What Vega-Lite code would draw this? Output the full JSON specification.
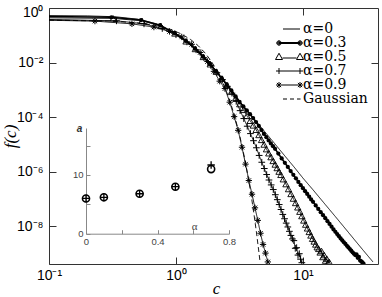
{
"$schema":"https://vega.github.io/schema/vega-lite/v6.json",
"width":329,"height":256,
"autosize":{"type":"none"},
"padding":{"left":49,"top":8,"right":4,"bottom":33},
"background":"white",
"config":{"view":{"stroke":null},"axis":{"grid":false,"labelFont":"Liberation Sans","titleFont":"Liberation Sans","labelFlush":false,"labelOverlap":false}},
"datasets":{
"main":[
{"s":"0","c":0.1,"f":0.525},{"s":"0","c":0.2,"f":0.513},{"s":"0","c":0.33,"f":0.479},{"s":"0","c":0.5,"f":0.389},{"s":"0","c":0.7,"f":0.263},{"s":"0","c":1,"f":0.115},{"s":"0","c":1.3,"f":0.0468},{"s":"0","c":1.65,"f":0.0162},{"s":"0","c":2,"f":0.00603},{"s":"0","c":2.4,"f":0.00214},{"s":"0","c":2.75,"f":8.9e-4},{"s":"0","c":3.2,"f":3.63e-4},{"s":"0","c":3.7,"f":1.58e-4},{"s":"0","c":4.3,"f":6.92e-5},{"s":"0","c":5,"f":2.95e-5},{"s":"0","c":6,"f":1.07e-5},{"s":"0","c":7,"f":4.47e-6},{"s":"0","c":8.5,"f":1.51e-6},{"s":"0","c":10,"f":5.89e-7},{"s":"0","c":12,"f":2.19e-7},{"s":"0","c":15,"f":6.31e-8},{"s":"0","c":18,"f":2.29e-8},{"s":"0","c":22,"f":7.41e-9},{"s":"0","c":26,"f":2.88e-9},{"s":"0","c":30,"f":1.29e-9},{"s":"0","c":35.6,"f":5.0e-10},
{"s":"G","c":0.1,"f":0.36},{"s":"G","c":0.3,"f":0.333},{"s":"G","c":0.5,"f":0.285},{"s":"G","c":0.7,"f":0.226},{"s":"G","c":0.9,"f":0.166},{"s":"G","c":1.1,"f":0.113},{"s":"G","c":1.3,"f":0.0708},{"s":"G","c":1.5,"f":0.0412},{"s":"G","c":1.7,"f":0.0222},{"s":"G","c":1.9,"f":0.01107},{"s":"G","c":2.1,"f":0.0051},{"s":"G","c":2.3,"f":0.00218},{"s":"G","c":2.5,"f":8.6e-4},{"s":"G","c":2.7,"f":3.15e-4},{"s":"G","c":2.9,"f":1.07e-4},{"s":"G","c":3.1,"f":3.34e-5},{"s":"G","c":3.3,"f":9.7e-6},{"s":"G","c":3.5,"f":2.6e-6},{"s":"G","c":3.7,"f":6.46e-7},{"s":"G","c":3.9,"f":1.49e-7},{"s":"G","c":4.1,"f":3.16e-8},{"s":"G","c":4.3,"f":6.22e-9},{"s":"G","c":4.5,"f":1.135e-9},{"s":"G","c":4.6,"f":4.71e-10},
{"s":"9","c":0.1,"f":0.355},{"s":"9","c":0.23,"f":0.331},{"s":"9","c":0.45,"f":0.263},{"s":"9","c":0.67,"f":0.2},{"s":"9","c":0.89,"f":0.138},{"s":"9","c":1.11,"f":0.0871},{"s":"9","c":1.33,"f":0.0468},{"s":"9","c":1.55,"f":0.0234},{"s":"9","c":1.77,"f":0.01096},{"s":"9","c":1.99,"f":0.00479},{"s":"9","c":2.21,"f":0.00209},{"s":"9","c":2.43,"f":0.00112},{"s":"9","c":2.65,"f":3.55e-4},{"s":"9","c":2.87,"f":1.05e-4},{"s":"9","c":3.09,"f":3.31e-5},{"s":"9","c":3.31,"f":7.94e-6},{"s":"9","c":3.53,"f":1.91e-6},{"s":"9","c":3.75,"f":4.79e-7},{"s":"9","c":3.97,"f":1.51e-7},{"s":"9","c":4.19,"f":4.79e-8},{"s":"9","c":4.41,"f":1.66e-8},{"s":"9","c":4.63,"f":5.62e-9},{"s":"9","c":4.85,"f":2.19e-9},{"s":"9","c":5.07,"f":1.05e-9},{"s":"9","c":5.29,"f":5.0e-10},
{"s":"7","c":0.1,"f":0.38},{"s":"7","c":0.34,"f":0.339},{"s":"7","c":0.56,"f":0.263},{"s":"7","c":0.78,"f":0.178},{"s":"7","c":1.0,"f":0.105},{"s":"7","c":1.22,"f":0.0575},{"s":"7","c":1.44,"f":0.0295},{"s":"7","c":1.66,"f":0.0151},{"s":"7","c":1.88,"f":0.00794},{"s":"7","c":2.1,"f":0.00427},{"s":"7","c":2.32,"f":0.0024},{"s":"7","c":2.54,"f":0.00135},{"s":"7","c":2.76,"f":7.59e-4},{"s":"7","c":2.98,"f":3.8e-4},{"s":"7","c":3.2,"f":1.74e-4},{"s":"7","c":3.42,"f":8.91e-5},{"s":"7","c":3.64,"f":4.68e-5},{"s":"7","c":3.86,"f":2.51e-5},{"s":"7","c":4.08,"f":1.38e-5},{"s":"7","c":4.3,"f":7.59e-6},{"s":"7","c":4.52,"f":3.98e-6},{"s":"7","c":4.74,"f":2.24e-6},{"s":"7","c":4.96,"f":1.32e-6},{"s":"7","c":5.18,"f":7.94e-7},{"s":"7","c":5.4,"f":5.01e-7},{"s":"7","c":5.62,"f":3.31e-7},{"s":"7","c":5.84,"f":2.24e-7},{"s":"7","c":6.06,"f":1.45e-7},{"s":"7","c":6.28,"f":9.55e-8},{"s":"7","c":6.5,"f":6.31e-8},{"s":"7","c":6.72,"f":4.17e-8},{"s":"7","c":6.94,"f":2.75e-8},{"s":"7","c":7.16,"f":1.91e-8},{"s":"7","c":7.38,"f":1.32e-8},{"s":"7","c":7.6,"f":9.55e-9},{"s":"7","c":7.82,"f":6.61e-9},{"s":"7","c":8.04,"f":4.68e-9},{"s":"7","c":8.26,"f":3.47e-9},{"s":"7","c":8.48,"f":3.02e-9},{"s":"7","c":8.7,"f":1.58e-9},{"s":"7","c":8.92,"f":1.66e-9},{"s":"7","c":9.14,"f":8.91e-10},{"s":"7","c":9.36,"f":1.0e-9},{"s":"7","c":9.58,"f":6.31e-10},{"s":"7","c":9.8,"f":4.68e-10},
{"s":"5","c":0.1,"f":0.437},{"s":"5","c":0.32,"f":0.417},{"s":"5","c":0.54,"f":0.339},{"s":"5","c":0.76,"f":0.219},{"s":"5","c":0.98,"f":0.1175},{"s":"5","c":1.2,"f":0.0603},{"s":"5","c":1.42,"f":0.0316},{"s":"5","c":1.64,"f":0.0162},{"s":"5","c":1.86,"f":0.00871},{"s":"5","c":2.08,"f":0.00468},{"s":"5","c":2.3,"f":0.00263},{"s":"5","c":2.52,"f":0.00151},{"s":"5","c":2.74,"f":8.51e-4},{"s":"5","c":2.96,"f":5.13e-4},{"s":"5","c":3.18,"f":3.02e-4},{"s":"5","c":3.4,"f":1.86e-4},{"s":"5","c":3.62,"f":1.12e-4},{"s":"5","c":3.84,"f":7.41e-5},{"s":"5","c":4.06,"f":5.01e-5},{"s":"5","c":4.28,"f":3.47e-5},{"s":"5","c":4.5,"f":2.24e-5},{"s":"5","c":4.72,"f":1.48e-5},{"s":"5","c":4.94,"f":1.0e-5},{"s":"5","c":5.16,"f":6.76e-6},{"s":"5","c":5.38,"f":4.79e-6},{"s":"5","c":5.6,"f":3.47e-6},{"s":"5","c":5.82,"f":2.51e-6},{"s":"5","c":6.04,"f":1.86e-6},{"s":"5","c":6.26,"f":1.38e-6},{"s":"5","c":6.48,"f":1.02e-6},{"s":"5","c":6.7,"f":7.76e-7},{"s":"5","c":7.0,"f":5.37e-7},{"s":"5","c":7.35,"f":3.55e-7},{"s":"5","c":7.7,"f":2.34e-7},{"s":"5","c":8.05,"f":1.55e-7},{"s":"5","c":8.4,"f":1.05e-7},{"s":"5","c":8.75,"f":7.24e-8},{"s":"5","c":9.1,"f":5.01e-8},{"s":"5","c":9.45,"f":3.47e-8},{"s":"5","c":9.8,"f":2.4e-8},{"s":"5","c":10.15,"f":1.66e-8},{"s":"5","c":10.5,"f":1.17e-8},{"s":"5","c":10.85,"f":8.51e-9},{"s":"5","c":11.2,"f":6.31e-9},{"s":"5","c":11.55,"f":4.68e-9},{"s":"5","c":11.9,"f":3.55e-9},{"s":"5","c":12.25,"f":2.82e-9},{"s":"5","c":12.6,"f":2.19e-9},{"s":"5","c":12.95,"f":1.74e-9},{"s":"5","c":13.3,"f":1.51e-9},{"s":"5","c":13.65,"f":1.12e-9},{"s":"5","c":14.0,"f":1.26e-9},{"s":"5","c":14.35,"f":7.59e-10},{"s":"5","c":14.7,"f":8.91e-10},{"s":"5","c":15.05,"f":5.62e-10},{"s":"5","c":15.4,"f":6.61e-10},{"s":"5","c":15.75,"f":4.68e-10},{"s":"5","c":16.1,"f":5.01e-10},
{"s":"3","c":0.1,"f":0.49},{"s":"3","c":0.31,"f":0.457},{"s":"3","c":0.53,"f":0.363},{"s":"3","c":0.75,"f":0.234},{"s":"3","c":0.97,"f":0.123},{"s":"3","c":1.19,"f":0.0631},{"s":"3","c":1.41,"f":0.0324},{"s":"3","c":1.63,"f":0.0166},{"s":"3","c":1.85,"f":0.00891},{"s":"3","c":2.07,"f":0.00479},{"s":"3","c":2.29,"f":0.00269},{"s":"3","c":2.51,"f":0.00158},{"s":"3","c":2.73,"f":9.55e-4},{"s":"3","c":2.95,"f":5.75e-4},{"s":"3","c":3.17,"f":3.63e-4},{"s":"3","c":3.39,"f":2.51e-4},{"s":"3","c":3.61,"f":1.78e-4},{"s":"3","c":3.83,"f":1.29e-4},{"s":"3","c":4.05,"f":9.33e-5},{"s":"3","c":4.27,"f":6.61e-5},{"s":"3","c":4.49,"f":4.79e-5},{"s":"3","c":4.71,"f":3.39e-5},{"s":"3","c":4.93,"f":2.45e-5},{"s":"3","c":5.15,"f":1.86e-5},{"s":"3","c":5.37,"f":1.41e-5},{"s":"3","c":5.59,"f":1.1e-5},{"s":"3","c":5.81,"f":8.71e-6},{"s":"3","c":6.03,"f":6.92e-6},{"s":"3","c":6.4,"f":4.68e-6},{"s":"3","c":6.8,"f":3.09e-6},{"s":"3","c":7.2,"f":2.14e-6},{"s":"3","c":7.6,"f":1.51e-6},{"s":"3","c":8.0,"f":1.07e-6},{"s":"3","c":8.4,"f":7.76e-7},{"s":"3","c":8.8,"f":5.75e-7},{"s":"3","c":9.2,"f":4.27e-7},{"s":"3","c":9.6,"f":3.24e-7},{"s":"3","c":10.0,"f":2.51e-7},{"s":"3","c":10.4,"f":1.95e-7},{"s":"3","c":10.8,"f":1.55e-7},{"s":"3","c":11.2,"f":1.23e-7},{"s":"3","c":11.6,"f":9.77e-8},{"s":"3","c":12.0,"f":7.94e-8},{"s":"3","c":12.6,"f":5.89e-8},{"s":"3","c":13.2,"f":4.37e-8},{"s":"3","c":13.8,"f":3.31e-8},{"s":"3","c":14.4,"f":2.57e-8},{"s":"3","c":15.0,"f":2.0e-8},{"s":"3","c":15.6,"f":1.55e-8},{"s":"3","c":16.2,"f":1.23e-8},{"s":"3","c":16.8,"f":9.77e-9},{"s":"3","c":17.4,"f":7.76e-9},{"s":"3","c":18.0,"f":6.31e-9},{"s":"3","c":18.6,"f":5.25e-9},{"s":"3","c":19.2,"f":4.37e-9},{"s":"3","c":19.8,"f":3.63e-9},{"s":"3","c":20.4,"f":3.09e-9},{"s":"3","c":21.0,"f":2.63e-9},{"s":"3","c":21.6,"f":2.29e-9},{"s":"3","c":22.2,"f":1.95e-9},{"s":"3","c":22.8,"f":1.7e-9},{"s":"3","c":23.4,"f":1.48e-9},{"s":"3","c":24.0,"f":1.29e-9},{"s":"3","c":24.6,"f":1.12e-9},{"s":"3","c":25.2,"f":1.0e-9},{"s":"3","c":25.8,"f":8.91e-10},{"s":"3","c":26.4,"f":9.55e-10},{"s":"3","c":27.0,"f":7.08e-10},{"s":"3","c":27.6,"f":7.59e-10},{"s":"3","c":28.2,"f":5.62e-10},{"s":"3","c":28.8,"f":5.25e-10},{"s":"3","c":29.4,"f":4.79e-10},{"s":"3","c":30.0,"f":4.37e-10}
],
"inset":[
{"a":0,"v":6.0,"t":"o"},{"a":0.1,"v":6.2,"t":"o"},{"a":0.3,"v":6.8,"t":"o"},{"a":0.5,"v":8.0,"t":"o"},{"a":0.7,"v":11.0,"t":"o"},
{"a":0,"v":6.0,"t":"p"},{"a":0.1,"v":6.2,"t":"p"},{"a":0.3,"v":6.8,"t":"p"},{"a":0.5,"v":8.0,"t":"p"},{"a":0.7,"v":11.7,"t":"p"}
]
},
"layer":[
{
"data":{"name":"main"},
"layer":[
{"transform":[{"filter":"datum.s!='3'"}],
"mark":{"type":"line","color":"black","strokeWidth":0.9,"clip":true},
"encoding":{
"x":{"field":"c","type":"quantitative","scale":{"type":"log","domain":[0.1,39],"nice":false},
"axis":{"orient":"bottom","values":[0.1,1,10],"labelExpr":"datum.value<0.5?'10⁻¹':datum.value<5?'10⁰':'10¹'","labelFontSize":14,"labelColor":"black","labelPadding":11,"tickSize":-7,"tickColor":"#333","domainColor":"#333","title":"c","titleFont":"Liberation Serif","titleFontStyle":"italic","titleFontWeight":"normal","titleFontSize":17,"titleColor":"black","titleX":167,"titleY":24,"titleBaseline":"middle","titleAlign":"center"}},
"y":{"field":"f","type":"quantitative","scale":{"type":"log","domain":[4.2e-10,1],"nice":false},
"axis":{"orient":"left","values":[1e-8,1e-6,1e-4,1e-2,1],"labelExpr":"datum.value>0.5?'10⁰':datum.value>0.005?'10⁻²':datum.value>0.00005?'10⁻⁴':datum.value>5e-7?'10⁻⁶':'10⁻⁸'","labelFontSize":14,"labelColor":"black","labelPadding":13,"labelOffset":{"condition":{"test":"datum.value>0.5","value":4},"value":0},"tickSize":-7,"tickColor":"#333","domainColor":"#333","title":"f(c)","titleFont":"Liberation Serif","titleFontStyle":"italic","titleFontWeight":"normal","titleFontSize":17,"titleColor":"black","titleX":-39,"titleY":128,"titleAngle":-90,"titleBaseline":"middle","titleAlign":"center"}},
"detail":{"field":"s"},
"strokeDash":{"field":"s","type":"nominal","scale":{"domain":["0","5","7","9","G"],"range":[[1,0],[1,0],[1,0],[1,0],[5,3]]},"legend":null}
}},
{"transform":[{"filter":"datum.s=='3'"}],
"mark":{"type":"line","color":"black","strokeWidth":1.6,"clip":true},
"encoding":{"x":{"field":"c","type":"quantitative"},"y":{"field":"f","type":"quantitative"}}},
{"transform":[{"filter":"datum.s=='3' && datum.c>0.15"}],
"mark":{"type":"point","shape":"circle","filled":true,"color":"black","size":18,"opacity":1,"clip":true},
"encoding":{"x":{"field":"c","type":"quantitative"},"y":{"field":"f","type":"quantitative"}}},
{"transform":[{"filter":"datum.s=='5' && datum.c>0.15"}],
"mark":{"type":"point","shape":"triangle-up","filled":false,"color":"black","size":40,"strokeWidth":0.9,"opacity":1,"clip":true},
"encoding":{"x":{"field":"c","type":"quantitative"},"y":{"field":"f","type":"quantitative"}}},
{"transform":[{"filter":"datum.s=='7' && datum.c>0.15"}],
"mark":{"type":"point","shape":"M-1,0L1,0M0,-1L0,1","filled":false,"color":"black","size":45,"strokeWidth":1,"opacity":1,"clip":true},
"encoding":{"x":{"field":"c","type":"quantitative"},"y":{"field":"f","type":"quantitative"}}},
{"transform":[{"filter":"datum.s=='9' && datum.c>0.15"}],
"mark":{"type":"point","shape":"M-1,0L1,0M0,-1L0,1M-0.7,-0.7L0.7,0.7M-0.7,0.7L0.7,-0.7","filled":false,"color":"black","size":40,"strokeWidth":1,"opacity":1,"clip":true},
"encoding":{"x":{"field":"c","type":"quantitative"},"y":{"field":"f","type":"quantitative"}}}
]
},
{
"data":{"values":[{"c":1,"f":0.01}]},
"mark":{"type":"point","opacity":0},
"encoding":{
"x":{"field":"c","type":"quantitative","scale":{"type":"log","domain":[0.1,39],"nice":false},"axis":{"orient":"top","values":[1,10],"labels":false,"title":null,"tickSize":-7,"tickColor":"#333","domainColor":"#333"}},
"y":{"field":"f","type":"quantitative","scale":{"type":"log","domain":[4.2e-10,1],"nice":false},"axis":{"orient":"right","values":[1e-8,1e-6,1e-4,1e-2],"labels":false,"title":null,"tickSize":-7,"tickColor":"#333","domainColor":"#333"}}
}
},
{
"data":{"name":"inset"},
"layer":[
{"transform":[{"filter":"datum.t=='o'"}],
"mark":{"type":"point","shape":"circle","filled":false,"color":"black","size":50,"strokeWidth":1.6,"opacity":1},
"encoding":{
"x":{"field":"a","type":"quantitative","scale":{"domain":[0,0.8],"range":[37,180],"nice":false,"zero":false},
"axis":{"orient":"bottom","offset":-30.3,"values":[0,0.2,0.4,0.6,0.8],"labelExpr":"datum.value==0?'0':datum.value==0.4?'0.4':datum.value==0.8?'0.8':''","labelFontSize":9.5,"labelColor":"#444","labelPadding":6.5,"tickSize":-4,"tickColor":"#888","domainColor":"#888","title":"α","titleFont":"Liberation Serif","titleFontWeight":"normal","titleFontSize":11,"titleColor":"#444","titleX":145,"titleY":-7,"titleBaseline":"middle","titleAlign":"center"}},
"y":{"field":"v","type":"quantitative","scale":{"domain":[0,18],"range":[225.7,120],"nice":false},
"axis":{"orient":"left","offset":-37,"values":[0,5,10,15],"labelExpr":"datum.value==0?'0':datum.value==10?'10':''","labelFontSize":9.5,"labelColor":"#444","labelPadding":7,"tickSize":-4,"tickColor":"#888","domainColor":"#888","title":"a","titleFont":"Liberation Sans","titleFontWeight":"bold","titleFontStyle":"italic","titleFontSize":10,"titleColor":"#333","titleAngle":0,"titleX":-7,"titleY":120,"titleBaseline":"middle","titleAlign":"center"}}
}},
{"transform":[{"filter":"datum.t=='p'"}],
"mark":{"type":"point","shape":"M-1,0L1,0M0,-1L0,1","filled":false,"color":"black","size":55,"strokeWidth":1.3,"opacity":1},
"encoding":{"x":{"field":"a","type":"quantitative"},"y":{"field":"v","type":"quantitative"}}}
]
},
{
"data":{"values":[{"lab":"α=0"},{"lab":"α=0.3"},{"lab":"α=0.5"},{"lab":"α=0.7"},{"lab":"α=0.9"},{"lab":"Gaussian"}]},
"mark":{"type":"point","opacity":0,"filled":false,"color":"black"},
"encoding":{
"shape":{"field":"lab","type":"nominal",
"scale":{"domain":["α=0","α=0.3","α=0.5","α=0.7","α=0.9","Gaussian"],
"range":["M-1.3,0L2.1,0",
"M-2.1,-0.1L2.1,-0.1M-2.1,0.1L2.1,0.1M-2.55,0A0.45,0.45,0,1,0,-1.65,0A0.45,0.45,0,1,0,-2.55,0M-2.4,0A0.3,0.3,0,1,0,-1.8,0A0.3,0.3,0,1,0,-2.4,0M-2.25,0A0.15,0.15,0,1,0,-1.95,0A0.15,0.15,0,1,0,-2.25,0M1.65,0A0.45,0.45,0,1,0,2.55,0A0.45,0.45,0,1,0,1.65,0M1.8,0A0.3,0.3,0,1,0,2.4,0A0.3,0.3,0,1,0,1.8,0M1.95,0A0.15,0.15,0,1,0,2.25,0A0.15,0.15,0,1,0,1.95,0",
"M-2.1,-0.75L-1.4,0.5L-2.8,0.5ZM2.1,-0.75L2.8,0.5L1.4,0.5ZM-1.4,0.2L1.4,0.2",
"M-2.7,0L2.7,0M-2.1,-0.6L-2.1,0.6M2.1,-0.6L2.1,0.6",
"M-2.7,0L2.7,0M-2.1,-0.6L-2.1,0.6M2.1,-0.6L2.1,0.6M-2.52,-0.42L-1.68,0.42M-2.52,0.42L-1.68,-0.42M1.68,-0.42L2.52,0.42M1.68,0.42L2.52,-0.42",
"M-1.3,0L-0.5,0M0.1,0L0.9,0M1.5,0L2.2,0"]},
"legend":{"orient":"none","legendX":233.5,"legendY":14,"title":null,"padding":0,"labelFont":"DejaVu Serif","labelFontSize":14,"labelColor":"black","symbolSize":100,"symbolStrokeWidth":1,"symbolStrokeColor":"black","symbolOpacity":1,"rowPadding":0,"labelOffset":6.5,
"encode":{"labels":{"update":{"font":{"signal":"datum.value=='Gaussian'?'DejaVu Sans':'DejaVu Serif'"}}}}}}
}
}
],
"resolve":{"scale":{"x":"independent","y":"independent"}}
}
